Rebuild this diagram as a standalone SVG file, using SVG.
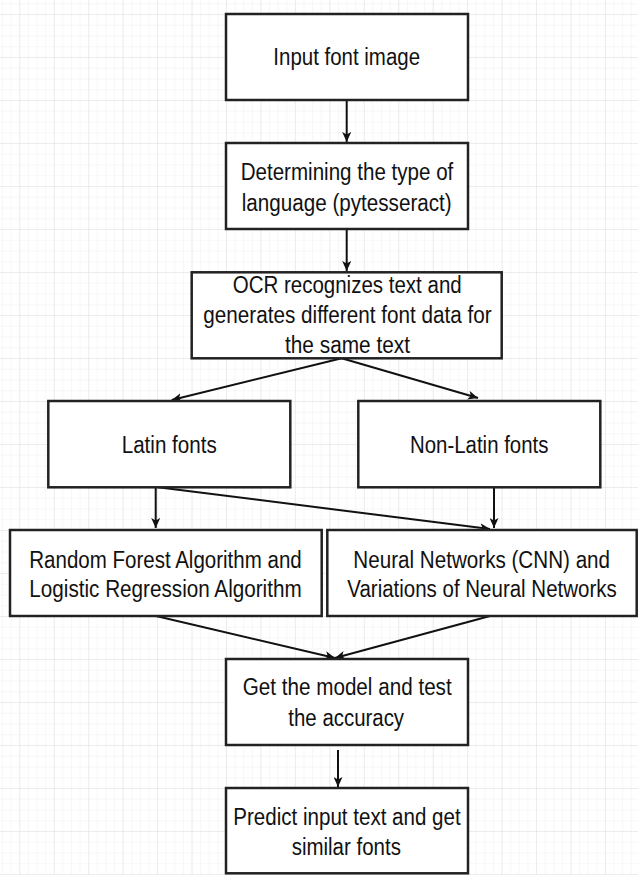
<svg xmlns="http://www.w3.org/2000/svg" width="638" height="875" viewBox="0 0 638 875">
<style>
.box{fill:#ffffff;stroke:#222222;stroke-width:2.5}
.t{font-family:"Liberation Sans",Arial,sans-serif;font-size:23px;fill:#111111;text-anchor:middle}
.c{fill:none;stroke:#111111;stroke-width:2;marker-end:url(#ah)}
</style>
<defs>
<pattern id="minor" patternUnits="userSpaceOnUse" x="19.3" y="14" width="8.6125" height="10.75">
<path d="M0,0 V10.75 M0,0 H8.6125" fill="none" stroke="#f0f0f0" stroke-width="1"/>
</pattern>
<pattern id="major" patternUnits="userSpaceOnUse" x="19.3" y="14" width="34.45" height="43">
<path d="M0,0 V43 M0,0 H34.45" fill="none" stroke="#e2e2e2" stroke-width="1"/>
</pattern>
<marker id="ah" markerUnits="userSpaceOnUse" markerWidth="11" markerHeight="9" refX="10" refY="4.5" orient="auto">
<path d="M0,0 L10,4.5 L0,9 L2.5,4.5 z" fill="#111111"/>
</marker>
</defs>
<rect width="638" height="875" fill="#ffffff"/>
<rect width="638" height="875" fill="url(#minor)"/>
<rect width="638" height="875" fill="url(#major)"/>

<g id="connectors">
<line class="c" x1="346.7" y1="100" x2="346.7" y2="142"/>
<line class="c" x1="346.7" y1="229" x2="346.7" y2="271"/>
<line class="c" x1="341.7" y1="358.3" x2="171.7" y2="400"/>
<line class="c" x1="341.7" y1="358.3" x2="478" y2="398"/>
<line class="c" x1="155.7" y1="487.3" x2="155.7" y2="528"/>
<line class="c" x1="158" y1="487.3" x2="490" y2="529"/>
<line class="c" x1="494" y1="487.3" x2="494" y2="528"/>
<line class="c" x1="156" y1="616" x2="335" y2="658"/>
<line class="c" x1="490" y1="616" x2="335" y2="658"/>
<line class="c" x1="338" y1="750" x2="338" y2="787"/>
</g>

<g id="n1">
<rect class="box" x="226" y="14" width="242" height="86"/>
<text class="t" x="346.7" y="65" textLength="146.7" lengthAdjust="spacingAndGlyphs">Input font image</text>
</g>
<g id="n2">
<rect class="box" x="226" y="143" width="242" height="86"/>
<text class="t" x="347" y="180" textLength="212.6" lengthAdjust="spacingAndGlyphs">Determining the type of</text>
<text class="t" x="346.7" y="210.5" textLength="210" lengthAdjust="spacingAndGlyphs">language (pytesseract)</text>
</g>
<g id="n3">
<rect class="box" x="191.7" y="272.3" width="310" height="86"/>
<text class="t" x="347.2" y="293.3" textLength="229" lengthAdjust="spacingAndGlyphs">OCR recognizes text and</text>
<text class="t" x="347.5" y="323.3" textLength="288.4" lengthAdjust="spacingAndGlyphs">generates different font data for</text>
<text class="t" x="347.5" y="353.3" textLength="125" lengthAdjust="spacingAndGlyphs">the same text</text>
</g>
<g id="n4">
<rect class="box" x="48.3" y="401" width="242" height="86.3"/>
<text class="t" x="169.2" y="452.7" textLength="95" lengthAdjust="spacingAndGlyphs">Latin fonts</text>
</g>
<g id="n5">
<rect class="box" x="358.3" y="401" width="242" height="86.3"/>
<text class="t" x="479.2" y="452.7" textLength="138.3" lengthAdjust="spacingAndGlyphs">Non-Latin fonts</text>
</g>
<g id="n6">
<rect class="box" x="10" y="530" width="311.7" height="86"/>
<text class="t" x="165.5" y="567.5" textLength="272.4" lengthAdjust="spacingAndGlyphs">Random Forest Algorithm and</text>
<text class="t" x="165.5" y="597" textLength="272.4" lengthAdjust="spacingAndGlyphs">Logistic Regression Algorithm</text>
</g>
<g id="n7">
<rect class="box" x="327.3" y="530" width="309.4" height="86"/>
<text class="t" x="481.7" y="567.5" textLength="256.7" lengthAdjust="spacingAndGlyphs">Neural Networks (CNN) and</text>
<text class="t" x="482" y="597" textLength="269.4" lengthAdjust="spacingAndGlyphs">Variations of Neural Networks</text>
</g>
<g id="n8">
<rect class="box" x="226" y="659" width="242" height="86"/>
<text class="t" x="347.2" y="695" textLength="209" lengthAdjust="spacingAndGlyphs">Get the model and test</text>
<text class="t" x="346.2" y="725.5" textLength="115.7" lengthAdjust="spacingAndGlyphs">the accuracy</text>
</g>
<g id="n9">
<rect class="box" x="226" y="788" width="242" height="85.3"/>
<text class="t" x="347" y="825" textLength="227.4" lengthAdjust="spacingAndGlyphs">Predict input text and get</text>
<text class="t" x="346.3" y="855" textLength="109.3" lengthAdjust="spacingAndGlyphs">similar fonts</text>
</g>
</svg>
